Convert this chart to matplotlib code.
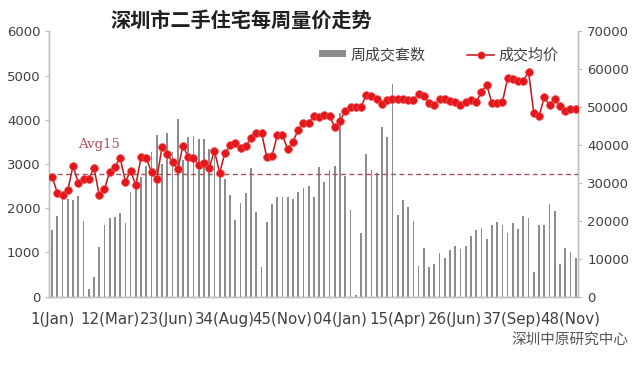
import matplotlib
matplotlib.use("Agg")
import matplotlib.pyplot as plt
import numpy as np
from matplotlib.lines import Line2D
from matplotlib.patches import Patch

plt.rcParams['font.family'] = ['DejaVu Sans', 'Noto Sans CJK SC']

title = "深圳市二手住宅每周量价走势"
source = "深圳中原研究中心"
bar_label = "周成交套数"
line_label = "成交均价"
avg_label = "Avg15"

tick_labels = ["1(Jan)", "12(Mar)", "23(Jun)", "34(Aug)", "45(Nov)",
               "04(Jan)", "15(Apr)", "26(Jun)", "37(Sep)", "48(Nov)"]
tick_every = 11

volumes = [1500, 1820, 2200, 2210, 2190, 2285, 1700, 175, 450, 1120,
           1620, 1790, 1800, 1900, 1675, 2365, 2450, 2700, 2950, 3280,
           3650, 3000, 3700, 3270, 4010, 3100, 3605, 3635, 3570, 3560,
           3335, 3300, 2800, 2670, 2290, 1735, 2110, 2350, 2900, 1915,
           675, 1695, 2100, 2247, 2247, 2260, 2217, 2360, 2460, 2503,
           2258, 2925, 2586, 2873, 2963, 4150, 2729, 1950, 35, 1435,
           3227, 2865, 2805, 3845, 3604, 4810, 1855, 2195, 2020, 1718,
           693, 1093, 663, 738, 994, 867, 1055, 1146, 1078, 1146,
           1372, 1508, 1550, 1297, 1612, 1681, 1617, 1433, 1662, 1530,
           1831, 1790, 560, 1617, 1617, 2085, 1944, 731, 1093, 1013,
           874]

prices = [31660, 27440, 26830, 28150, 34490, 30080, 30970, 30970, 34040, 26830,
          28330, 32980, 34300, 36680, 30340, 33170, 29400, 36940, 36520, 32820,
          31050, 39580, 37650, 35460, 33610, 39850, 36780, 36510, 34670, 35370,
          33870, 38530, 32720, 37840, 39950, 40480, 39320, 39850, 41800, 43280,
          43280, 36780, 37130, 42590, 42590, 38890, 40900, 43990, 45760, 45760,
          47770, 47510, 47950, 47690, 44700, 46450, 49090, 50070, 50070, 50070,
          53240, 52970, 52100, 50860, 51910, 52100, 52100, 52100, 51910, 51910,
          53500, 52970, 51200, 50590, 52100, 52100, 51730, 51400, 50600, 51470,
          51800, 51300, 54110, 55880, 51200, 51000, 51400, 57640, 57460, 56930,
          57000, 59390, 48400, 47690, 52630, 50510, 52100, 50330, 49090, 49460,
          49500]

avg15 = 32370

n = len(volumes)
x = np.arange(n)

fig = plt.figure(figsize=(6.4, 3.65), dpi=100)
ax = fig.add_axes([0.0773, 0.1874, 0.8263, 0.7263])
ax2 = ax.twinx()

spine_c = "#BFBFBF"
bar_c = "#8C8C8C"
red = "#E3171B"
avg_c = "#A8505A"
txt_c = "#404040"

ax.bar(x, volumes, width=0.33, color=bar_c, zorder=2)
ax.set_xlim(-0.5, n - 0.5)
ax.set_ylim(0, 6000)
ax.set_yticks(np.arange(0, 6001, 1000))
ax.set_xticks(x[::tick_every])
ax.set_xticklabels(tick_labels)

ax2.axhline(avg15, color=avg_c, lw=1.0, ls=(0, (3.5, 2.5)), zorder=3)
ax2.plot(x, prices, color="#C0161A", lw=1.1, marker="o", markersize=5.6,
         markerfacecolor=red, markeredgecolor="#F05050", markeredgewidth=0.5, zorder=4)
ax2.set_ylim(0, 70000)
ax2.set_yticks(np.arange(0, 70001, 10000))

for a in (ax, ax2):
    a.spines['top'].set_visible(False)
    for s in ('left', 'right', 'bottom'):
        a.spines[s].set_color(spine_c)
        a.spines[s].set_linewidth(1.0)
    a.tick_params(axis='y', colors=spine_c, labelcolor=txt_c, labelsize=9.5, length=3, width=0.8)
    a.patch.set_visible(False)
ax.tick_params(axis='x', length=0, labelsize=10.8, labelcolor=txt_c, pad=11)

fig.text(0.377, 0.945, title, ha='center', va='center', fontsize=14.5,
         fontweight='bold', family=['Noto Sans CJK SC'], color="#202020")

ax.text(5, 3440, avg_label, family=['DejaVu Serif'], fontsize=9.5, color=avg_c,
        ha='left', va='center')

handles = [Patch(facecolor=bar_c, edgecolor='none'),
           Line2D([0], [0], color="#C0161A", lw=1.1, marker='o', markersize=5.2,
                  markerfacecolor=red, markeredgecolor="#F05050", markeredgewidth=0.5)]
leg = fig.legend(handles, [bar_label, line_label], loc='center left',
                 bbox_to_anchor=(0.477, 0.85), ncol=2, frameon=False,
                 prop={'family': ['Noto Sans CJK SC'], 'size': 10.8},
                 handlelength=1.8, handleheight=0.35, columnspacing=2.8, handletextpad=0.3)
for t in leg.get_texts():
    t.set_color(txt_c)

fig.text(0.982, 0.068, source, ha='right', va='center', fontsize=10.5,
         family=['Noto Sans CJK SC'], color="#555555")

fig.savefig("out.png", dpi=100)
